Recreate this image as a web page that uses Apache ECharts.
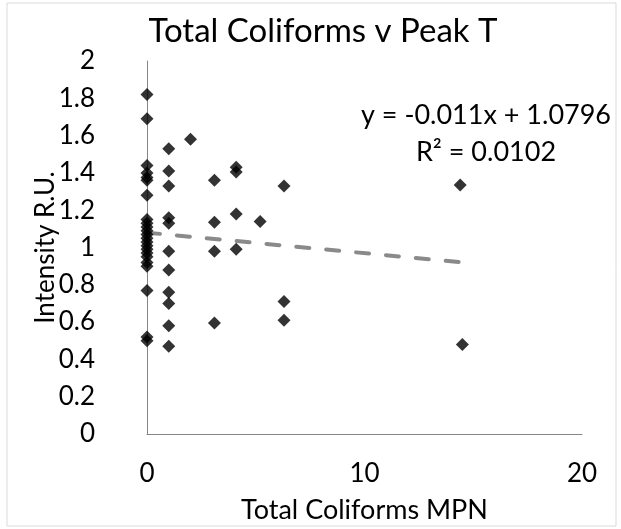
<!DOCTYPE html>
<html>
<head>
<meta charset="utf-8">
<script src="https://cdn.jsdelivr.net/npm/echarts@6/dist/echarts.min.js"></script>
<style>html,body{margin:0;padding:0;background:#fff}#c{width:621px;height:529px}</style>
</head>
<body>
<div id="c"></div>
<script>
// Total Coliforms MPN (x) and Intensity R.U. (y)
const mpnValues = [
  0,0,0,0,0,0,0,0,0,0,0,0,0,0,0,0,0,0,0,0,0,0,0,
  1,1,1,1,1,1,1,1,1,1,1,
  2,
  3.1,3.1,3.1,3.1,
  4.1,4.1,4.1,4.1,
  5.2,
  6.3,6.3,6.3,
  14.4,14.5
];
const intensityValues = [
  1.82,1.69,1.44,1.40,1.375,1.36,1.28,1.15,1.13,1.11,1.09,1.07,1.05,1.03,1.01,0.99,0.97,0.95,0.92,0.90,0.77,0.52,0.50,
  1.53,1.41,1.33,1.16,1.13,0.98,0.88,0.76,0.70,0.58,0.47,
  1.58,
  1.36,1.135,0.98,0.595,
  1.43,1.405,1.18,0.99,
  1.14,
  1.33,0.71,0.61,
  1.335,0.48
];
const trendSlope = -0.011;
const trendIntercept = 1.0796;
const trendLabel = 'y = -0.011x + 1.0796';
const r2Label = 'R² = 0.0102';
const xTicks = [0, 10, 20];
const yTicks = [0, 0.2, 0.4, 0.6, 0.8, 1, 1.2, 1.4, 1.6, 1.8, 2];

const points = mpnValues.map((x, i) => [x, intensityValues[i]]);
const xMin = Math.min(...mpnValues), xMax = Math.max(...mpnValues);
const trendPoints = [[xMin, trendSlope * xMin + trendIntercept], [xMax, trendSlope * xMax + trendIntercept]];

const FONT = 'Lato';
const chart = echarts.init(document.getElementById('c'));
chart.setOption({
  animation: false,
  backgroundColor: '#fff',
  title: {
    text: 'Total Coliforms v Peak T',
    left: 318, top: 10, textAlign: 'center',
    textStyle: { fontFamily: FONT, fontSize: 33, fontWeight: 'normal', color: '#000' }
  },
  grid: { left: 147, right: 39, top: 61, bottom: 95, containLabel: false },
  xAxis: {
    type: 'value', min: xTicks[0], max: xTicks[xTicks.length - 1], interval: xTicks[1] - xTicks[0],
    name: 'Total Coliforms MPN', nameLocation: 'middle', nameGap: 63, nameMoveOverlap: false,
    nameTextStyle: { fontFamily: FONT, fontSize: 27, color: '#000' },
    axisLine: { show: true, lineStyle: { color: '#868686', width: 1 } },
    axisTick: { show: false },
    splitLine: { show: false },
    axisLabel: { fontFamily: FONT, fontSize: 26, color: '#000', margin: 27 }
  },
  yAxis: {
    type: 'value', min: yTicks[0], max: yTicks[yTicks.length - 1], interval: 0.2,
    name: 'Intensity R.U.', nameLocation: 'middle', nameGap: 88, nameMoveOverlap: false,
    nameTextStyle: { fontFamily: FONT, fontSize: 26, color: '#000' },
    axisLine: { show: true, lineStyle: { color: '#868686', width: 1 } },
    axisTick: { show: false },
    splitLine: { show: false },
    axisLabel: { fontFamily: FONT, fontSize: 26, color: '#000', margin: 30, padding: [0, 22, 0, 0],
      formatter: v => String(Math.round(v * 10) / 10) }
  },
  series: [
    {
      type: 'scatter', data: points, symbol: 'diamond', symbolSize: 13,
      itemStyle: { color: '#000' }, z: 3
    },
    {
      type: 'line', data: trendPoints, symbol: 'none',
      lineStyle: { color: '#8a8a8a', width: 4, type: [13, 17], cap: 'round' }, z: 2
    }
  ],
  graphic: [
    { type: 'rect', shape: { x: 7, y: 3, width: 609, height: 523 }, style: { fill: 'none', stroke: '#d9d9d9', lineWidth: 1 }, silent: true },
    { type: 'text', x: 486, y: 115, style: { text: trendLabel, fontFamily: FONT, fontSize: 27, fill: '#000', textAlign: 'center', textVerticalAlign: 'middle' } },
    { type: 'text', x: 486, y: 152, style: { text: r2Label, fontFamily: FONT, fontSize: 27, fill: '#000', textAlign: 'center', textVerticalAlign: 'middle' } }
  ]
});
</script>
</body>
</html>
